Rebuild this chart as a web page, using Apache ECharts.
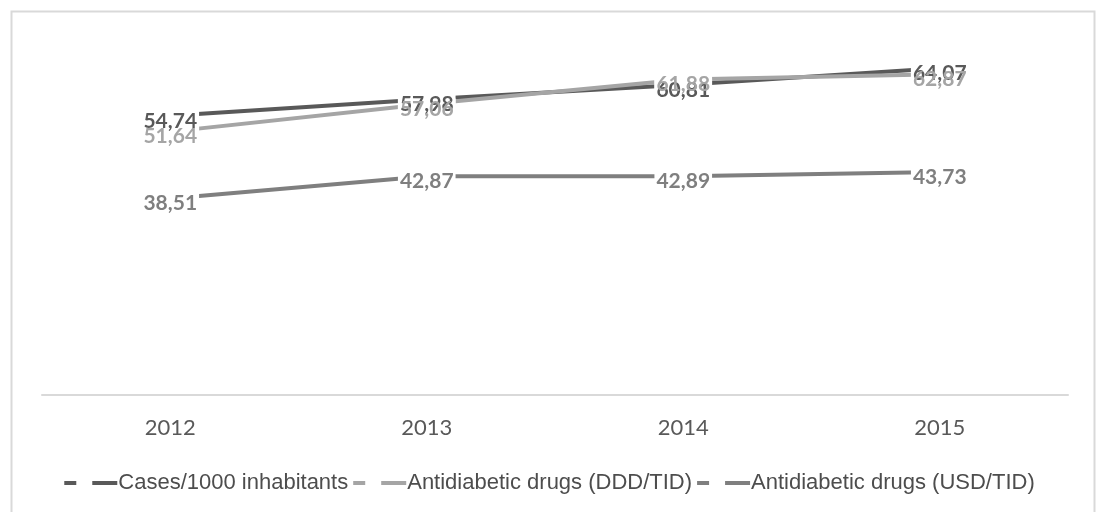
<!DOCTYPE html>
<html>
<head>
<meta charset="utf-8">
<style>
  html, body { margin: 0; padding: 0; background: #ffffff; }
  #chart { width: 1099px; height: 512px; }
</style>
<script src="https://cdn.jsdelivr.net/npm/echarts@6/dist/echarts.min.js"></script>
</head>
<body>
<div id="chart"></div>
<script>
// Years on the category axis
const years = ['2012', '2013', '2014', '2015'];

// Series values
const casesPer1000 = [54.74, 57.98, 60.81, 64.07];
const drugsDddTid = [51.64, 57.06, 61.88, 62.87];
const drugsUsdTid = [38.51, 42.87, 42.89, 43.73];

const seriesNames = [
  'Cases/1000 inhabitants',
  'Antidiabetic drugs (DDD/TID)',
  'Antidiabetic drugs (USD/TID)'
];
const seriesValues = [casesPer1000, drugsDddTid, drugsUsdTid];
const seriesColors = ['#595959', '#a5a5a5', '#7f7f7f'];

// Values use a decimal comma
const fmt = p => p.value.toFixed(2).replace('.', ',');

const labelFont = {
  fontFamily: 'Lato',
  fontWeight: 'bold',
  fontSize: 21
};

const series = [];

// Lines (drawn lowest)
seriesValues.forEach((vals, i) => {
  series.push({
    name: seriesNames[i],
    type: 'line',
    data: vals,
    z: 2,
    symbol: 'none',
    color: seriesColors[i],
    lineStyle: { width: 4, color: seriesColors[i] },
    label: { show: false },
    emphasis: { disabled: true },
    silent: true
  });
});

// White boxes behind every value label, hiding the lines under them
seriesValues.forEach((vals, i) => {
  series.push({
    name: 'labelBox' + i,
    type: 'line',
    data: vals,
    z: 3,
    symbol: 'circle',
    symbolSize: 0,
    showSymbol: true,
    lineStyle: { width: 0, opacity: 0 },
    itemStyle: { color: 'rgba(0,0,0,0)' },
    label: Object.assign({
      show: true,
      position: 'inside',
      offset: [0, 5],
      formatter: fmt,
      color: 'rgba(0,0,0,0)',
      backgroundColor: '#ffffff',
      padding: [0, 2]
    }, labelFont),
    emphasis: { disabled: true },
    silent: true
  });
});

// Value label texts (drawn on top)
seriesValues.forEach((vals, i) => {
  series.push({
    name: 'labelText' + i,
    type: 'line',
    data: vals,
    z: 4,
    symbol: 'circle',
    symbolSize: 0,
    showSymbol: true,
    lineStyle: { width: 0, opacity: 0 },
    itemStyle: { color: 'rgba(0,0,0,0)' },
    label: Object.assign({
      show: true,
      position: 'inside',
      offset: [0, 5],
      formatter: fmt,
      color: seriesColors[i],
      padding: [0, 2]
    }, labelFont),
    emphasis: { disabled: true },
    silent: true
  });
});

const chart = echarts.init(document.getElementById('chart'), null, { renderer: 'canvas' });

chart.setOption({
  animation: false,
  backgroundColor: '#ffffff',
  graphic: [{
    type: 'rect',
    left: 9,
    top: 9,
    shape: { width: 1083, height: 540 },
    style: { fill: 'none', stroke: '#d9d9d9', lineWidth: 2 },
    silent: true,
    z: 0
  }],
  grid: {
    left: 42,
    right: 31,
    top: 38,
    bottom: 117,
    containLabel: false
  },
  legend: {
    data: seriesNames,
    left: 'center',
    top: 467,
    itemGap: 5,
    itemWidth: 53,
    itemHeight: 4,
    icon: 'path://M0,0H12V4H0Z M28,0H53V4H28Z',
    textStyle: {
      fontFamily: 'Liberation Sans',
      fontSize: 22,
      color: '#4d4d4d',
      padding: [0, 0, 0, -4]
    },
    selectedMode: false
  },
  xAxis: {
    type: 'category',
    data: years,
    boundaryGap: true,
    axisLine: { show: true, lineStyle: { color: '#d9d9d9', width: 2 } },
    axisTick: { show: false },
    axisLabel: {
      margin: 22,
      fontFamily: 'Lato',
      fontSize: 22,
      color: '#595959'
    },
    splitLine: { show: false }
  },
  yAxis: {
    type: 'value',
    min: 0,
    max: 70,
    interval: 10,
    show: false,
    splitLine: { show: false }
  },
  series: series
});
</script>
</body>
</html>
